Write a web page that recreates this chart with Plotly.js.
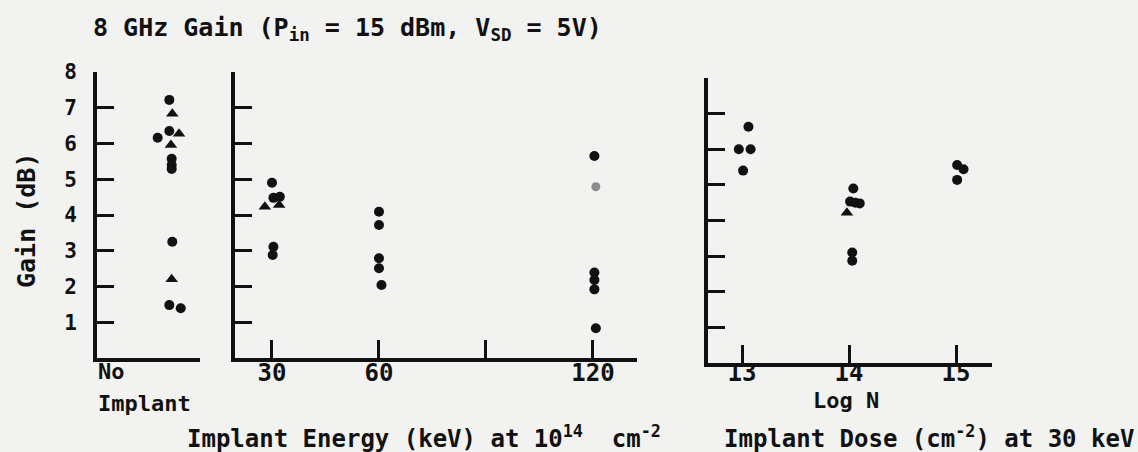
<!DOCTYPE html>
<html><head><meta charset="utf-8">
<script src="https://cdn.plot.ly/plotly-3.0.1.min.js"></script>
<style>html,body{margin:0;padding:0;background:#f2f2f0}</style>
</head><body><div id="chart" style="width:1138px;height:452px"></div>
<script>
// ---- Data (gain in dB) ----
const gainTicks = [1, 2, 3, 4, 5, 6, 7, 8];

// No implant (x = horizontal scatter position within the panel)
const noImpCircleX = [7.02, 7.02, 5.89, 7.25, 7.25, 7.25, 7.31, 7.02, 8.13];
const noImpCircleY = [7.22, 6.35, 6.16, 5.57, 5.40, 5.29, 3.25, 1.48, 1.39];
const noImpTriX = [7.31, 7.96, 7.18, 7.25];
const noImpTriY = [6.83, 6.27, 5.96, 2.20];

// Implant energy (keV) at 1e14 cm^-2
const energyTicks = [30, 60, 90, 120];
const energyTickText = ["30", "60", "", "120"];
const energyCircleX = [30.0, 30.4, 32.2, 30.4, 30.2, 60.0, 60.0, 60.0, 60.0, 60.7, 120.4, 120.4, 120.4, 120.4, 120.8];
const energyCircleY = [4.90, 4.48, 4.51, 3.11, 2.88, 4.09, 3.72, 2.79, 2.51, 2.04, 5.65, 2.39, 2.18, 1.92, 0.83];
const energyTriX = [28.0, 32.0];
const energyTriY = [4.23, 4.28];
const energyGreyX = [120.8];
const energyGreyY = [4.79];

// Implant dose (log N) at 30 keV
const doseTicks = [13, 14, 15];
const doseTickText = ["13", "14", "15"];
const doseCircleX = [13.06, 12.97, 13.08, 13.01, 14.04, 14.01, 14.10, 14.06, 14.03, 14.03, 15.01, 15.07, 15.01];
const doseCircleY = [6.63, 6.00, 6.00, 5.40, 4.90, 4.53, 4.48, 4.50, 3.10, 2.87, 5.56, 5.44, 5.14];
const doseTriX = [13.98];
const doseTriY = [4.22];

// ---- Styling ----
const W = 1138, H = 452;
const ink = '#111111';
const FONT = '"DejaVu Sans Mono", "Liberation Mono", monospace';
const px = v => v / W;
const py = v => (H - v) / H;
const NB = '\u00a0';

const circ = {symbol: 'circle', size: 10, color: ink};
const tri = {symbol: 'triangle-up', size: 11, color: ink};

const traces = [
  {x: noImpCircleX, y: noImpCircleY, xaxis: 'x', yaxis: 'y', mode: 'markers', marker: circ, type: 'scatter'},
  {x: noImpTriX, y: noImpTriY, xaxis: 'x', yaxis: 'y', mode: 'markers', marker: tri, type: 'scatter'},
  {x: energyCircleX, y: energyCircleY, xaxis: 'x2', yaxis: 'y2', mode: 'markers', marker: circ, type: 'scatter'},
  {x: energyTriX, y: energyTriY, xaxis: 'x2', yaxis: 'y2', mode: 'markers', marker: tri, type: 'scatter'},
  {x: energyGreyX, y: energyGreyY, xaxis: 'x2', yaxis: 'y2', mode: 'markers', marker: {symbol: 'circle', size: 9, color: '#8c8c8c'}, type: 'scatter'},
  {x: doseCircleX, y: doseCircleY, xaxis: 'x3', yaxis: 'y3', mode: 'markers', marker: circ, type: 'scatter'},
  {x: doseTriX, y: doseTriY, xaxis: 'x3', yaxis: 'y3', mode: 'markers', marker: tri, type: 'scatter'}
];

const axLine = {showline: true, linecolor: ink, linewidth: 4, showgrid: false, zeroline: false, fixedrange: true};
const yBase = Object.assign({}, axLine, {range: [0, 8], tickvals: gainTicks, ticks: 'inside', ticklen: 17, tickwidth: 3, tickcolor: ink});
const xTickFont = {family: FONT, size: 24, color: ink, weight: 'bold'};

const layout = {
  width: W, height: H,
  margin: {l: 0, r: 0, t: 0, b: 0},
  paper_bgcolor: '#f2f2f0', plot_bgcolor: 'rgba(0,0,0,0)',
  showlegend: false,
  font: {family: FONT, color: ink, size: 22, weight: 'bold'},
  title: {
    text: '8 GHz Gain (P<sub>in</sub> = 15 dBm, V<sub>SD</sub> = 5V)',
    x: px(93), xanchor: 'left', y: py(27), yanchor: 'middle',
    font: {family: FONT, size: 25, color: ink, weight: 'bold'}
  },
  xaxis: Object.assign({}, axLine, {domain: [px(97), px(200)], range: [0, 10], showticklabels: false, ticks: '', anchor: 'y'}),
  yaxis: Object.assign({}, yBase, {domain: [py(358), py(72)], anchor: 'x', showticklabels: true, ticklabelstandoff: 12,
    tickfont: {family: FONT, size: 21, color: ink, weight: 'bold'}}),
  xaxis2: Object.assign({}, axLine, {domain: [px(235), px(637)], range: [19.63, 132.34], anchor: 'y2',
    tickvals: energyTicks, ticktext: energyTickText, ticks: 'inside', ticklen: 18, tickwidth: 3, tickcolor: ink,
    tickfont: xTickFont, ticklabelstandoff: -10}),
  yaxis2: Object.assign({}, yBase, {domain: [py(358), py(72)], anchor: 'x2', showticklabels: false}),
  xaxis3: Object.assign({}, axLine, {domain: [px(708), px(992)], range: [12.682, 15.336], anchor: 'y3',
    tickvals: doseTicks, ticktext: doseTickText, ticks: 'inside', ticklen: 18, tickwidth: 3, tickcolor: ink,
    tickfont: xTickFont, ticklabelstandoff: -15}),
  yaxis3: Object.assign({}, yBase, {domain: [py(363), py(78)], anchor: 'x3', showticklabels: false}),
  annotations: [
    {text: 'Gain (dB)', xref: 'paper', yref: 'paper', x: px(26), y: py(221), xanchor: 'center', yanchor: 'middle', textangle: -90, showarrow: false, font: {size: 25}},
    {text: 'No', xref: 'paper', yref: 'paper', x: px(96), y: py(371), xanchor: 'left', yanchor: 'middle', showarrow: false, font: {size: 22}},
    {text: 'Implant', xref: 'paper', yref: 'paper', x: px(96), y: py(403), xanchor: 'left', yanchor: 'middle', showarrow: false, font: {size: 22}},
    {text: 'Log N', xref: 'paper', yref: 'paper', x: px(846), y: py(400), xanchor: 'center', yanchor: 'middle', showarrow: false, font: {size: 22}},
    {text: 'Implant Energy (keV) at 10<sup>14</sup>' + NB + NB + 'cm<sup>-2</sup>', xref: 'paper', yref: 'paper', x: px(185), y: py(437), xanchor: 'left', yanchor: 'middle', showarrow: false, font: {size: 24}},
    {text: 'Implant Dose (cm<sup>-2</sup>) at 30 keV', xref: 'paper', yref: 'paper', x: px(1136), y: py(437), xanchor: 'right', yanchor: 'middle', showarrow: false, font: {size: 24}}
  ]
};

Plotly.newPlot('chart', traces, layout, {staticPlot: true, displayModeBar: false});
</script>
</body></html>
